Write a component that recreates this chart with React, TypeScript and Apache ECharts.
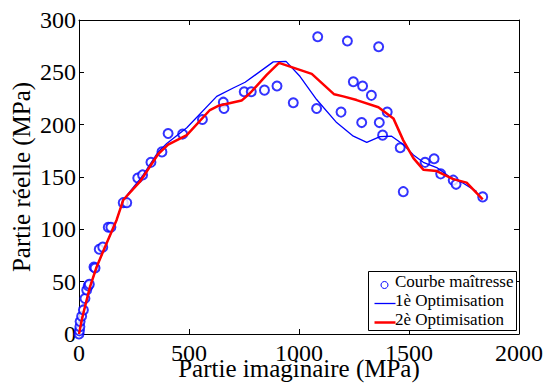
import React, { useEffect, useRef } from "react";
import * as echarts from "echarts";

const FONT = "Liberation Serif";

const xTicks = { min: 0, max: 2000, interval: 500 };
const yTicks = { min: 0, max: 300, interval: 50 };

const xTitle = "Partie imaginaire (MPa)";
const yTitle = "Partie réelle (MPa)";

const seriesNames = ["Courbe maîtresse", "1è Optimisation", "2è Optimisation"];

// Courbe maîtresse: [partie imaginaire, partie réelle]
const masterX = [0, 2, 4, 5, 12, 20, 27, 35, 42, 47, 68, 73, 92, 108, 133, 145, 201, 217, 267, 289, 327, 377, 405, 471, 561, 656, 659, 751, 783, 843, 900, 974, 1085, 1080, 1191, 1220, 1247, 1289, 1329, 1285, 1362, 1365, 1401, 1380, 1460, 1474, 1573, 1614, 1644, 1701, 1714, 1835];
const masterY = [0, 3, 7, 12, 17, 23, 34, 42, 46, 47.5, 64, 63, 81, 83, 102, 102, 125.5, 125.5, 149, 152, 164, 174, 191.5, 191, 205, 221.5, 215.5, 231.5, 231.5, 233, 237, 221, 284, 215.5, 212, 280, 241, 237, 228, 202, 274.5, 202, 212, 190, 178, 136, 164, 167.5, 153, 147, 143, 131];

// 1è Optimisation
const opt1X = [0, 12, 27, 50, 80, 126, 171, 201, 285, 360, 399, 490, 626, 701, 755, 883, 941, 1005, 1080, 1171, 1247, 1308, 1368, 1421, 1474, 1520, 1565, 1626, 1686, 1747, 1808];
const opt1Y = [0, 13, 26, 45, 64, 87, 109, 128, 150, 174, 182, 197, 227, 235, 240.5, 260, 260.5, 246, 224, 202, 189, 183, 188.5, 189, 181, 171, 164, 159, 150, 144, 136];

// 2è Optimisation
const opt2X = [0, 12, 27, 50, 80, 126, 171, 201, 277, 360, 405, 490, 595, 633, 739, 777, 853, 909, 1058, 1160, 1201, 1262, 1361, 1429, 1474, 1520, 1565, 1626, 1701, 1762, 1835];
const opt2Y = [0, 13, 26, 45, 64, 87, 109, 128, 145.5, 172, 181, 190, 214, 218, 223, 230, 247.5, 259, 248.5, 229, 227, 223.5, 216.6, 206, 185, 168, 157, 155.7, 148, 144.6, 128.7];

const zip = (xs: number[], ys: number[]) => xs.map((x, i) => [x, ys[i]]);

const BLUE = "#0000ff";
const RED = "#ff0000";

export default function App() {
  const ref = useRef<HTMLDivElement>(null);
  useEffect(() => {
    if (!ref.current) return;
    const chart = echarts.init(ref.current, undefined, { renderer: "svg" });
    const axisCommon = {
      axisLine: { show: true, onZero: false, lineStyle: { color: "#000", width: 1 } },
      axisTick: { show: true, inside: true, length: 5, lineStyle: { color: "#000" } },
      splitLine: { show: false },
    };
    const fmt = (v: number) => String(v);
    const tickFont = { fontFamily: FONT, fontSize: 24, color: "#000", formatter: fmt };
    const nameFont = { fontFamily: FONT, fontSize: 25, color: "#000" };
    const legX = 368, legY = 271;
    const legFont = { fontFamily: FONT, fontSize: 17, fill: "#000" };
    chart.setOption({
      animation: false,
      backgroundColor: "#fff",
      grid: { left: 79, right: 28, top: 20, bottom: 51, containLabel: false, outerBoundsMode: "none" },
      xAxis: [
        {
          type: "value", ...xTicks, position: "bottom", ...axisCommon,
          axisLabel: { ...tickFont, margin: 7 },
          name: xTitle, nameLocation: "middle", nameGap: 22, nameMoveOverlap: false,
          nameTextStyle: nameFont,
        },
        { type: "value", ...xTicks, position: "top", ...axisCommon, axisLabel: { show: false } },
      ],
      yAxis: [
        {
          type: "value", ...yTicks, position: "left", ...axisCommon,
          axisLabel: { ...tickFont, margin: 3 },
          name: yTitle, nameLocation: "middle", nameGap: 45, nameMoveOverlap: false,
          nameTextStyle: nameFont,
        },
        { type: "value", ...yTicks, position: "right", ...axisCommon, axisLabel: { show: false } },
      ],
      series: [
        {
          name: seriesNames[0], type: "scatter", data: zip(masterX, masterY),
          symbol: "emptyCircle", symbolSize: 9,
          itemStyle: { color: BLUE, borderColor: BLUE, borderWidth: 1 },
          z: 3,
        },
        {
          name: seriesNames[1], type: "line", data: zip(opt1X, opt1Y),
          symbol: "none", lineStyle: { color: BLUE, width: 1.3 }, z: 4,
        },
        {
          name: seriesNames[2], type: "line", data: zip(opt2X, opt2Y),
          symbol: "none", lineStyle: { color: RED, width: 2.5 }, z: 5,
        },
      ],
      graphic: [
        { type: "rect", left: legX, top: legY, z: 100, shape: { x: 0, y: 0, width: 148, height: 59 }, style: { fill: "#fff", stroke: "#000", lineWidth: 1 } },
        { type: "circle", left: legX + 10.5, top: legY + 8, z: 101, shape: { r: 3.5 }, style: { fill: "none", stroke: BLUE, lineWidth: 1 } },
        { type: "text", left: legX + 27, top: legY + 2, z: 101, style: { text: seriesNames[0], ...legFont } },
        { type: "line", left: legX + 4, top: legY + 30, z: 101, shape: { x1: 0, y1: 0, x2: 21, y2: 0 }, style: { stroke: BLUE, lineWidth: 1.3 } },
        { type: "text", left: legX + 27, top: legY + 21, z: 101, style: { text: seriesNames[1], ...legFont } },
        { type: "line", left: legX + 4, top: legY + 49, z: 101, shape: { x1: 0, y1: 0, x2: 21, y2: 0 }, style: { stroke: RED, lineWidth: 2.5 } },
        { type: "text", left: legX + 27, top: legY + 40, z: 101, style: { text: seriesNames[2], ...legFont } },
      ],
    });
    return () => chart.dispose();
  }, []);
  return <div ref={ref} style={{ position: "absolute", left: 0, top: 0, width: 547, height: 385 }} />;
}
